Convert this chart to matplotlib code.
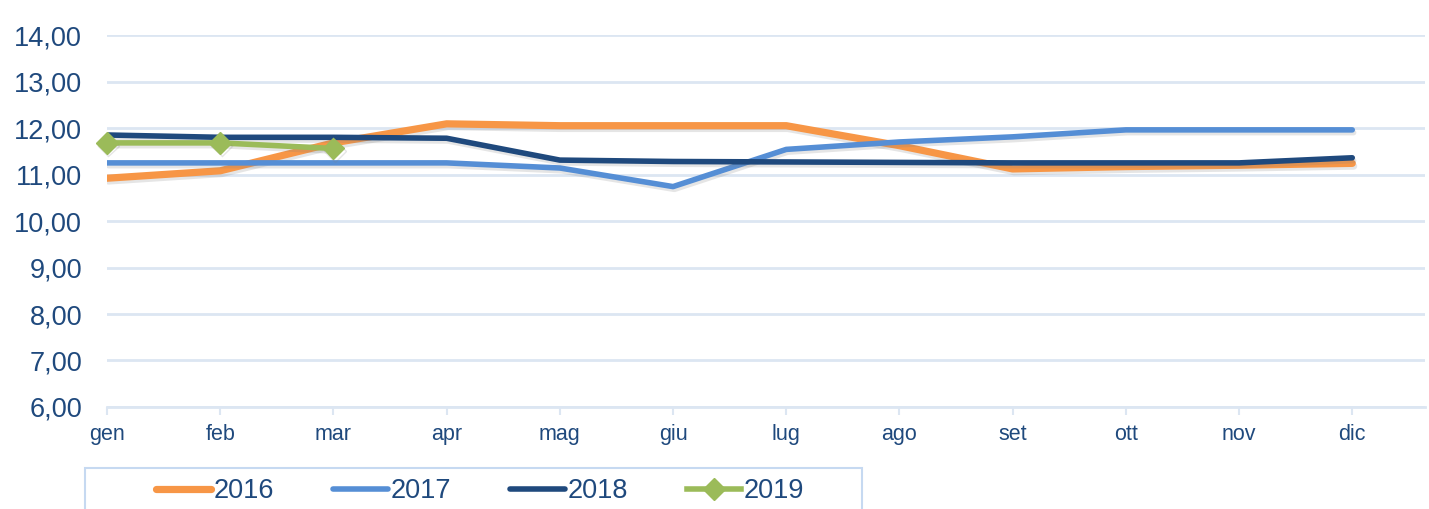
import numpy as np
import matplotlib.pyplot as plt
import matplotlib.patheffects as pe
from matplotlib.patches import Rectangle

# mesi e valori (lettura dal grafico)
mesi = ["gen", "feb", "mar", "apr", "mag", "giu", "lug", "ago", "set", "ott", "nov", "dic"]
v2016 = [10.92, 11.08, 11.68, 12.09, 12.05, 12.05, 12.05, 11.62, 11.12, 11.17, 11.20, 11.24]
v2017 = [11.25, 11.25, 11.25, 11.25, 11.14, 10.74, 11.54, 11.70, 11.81, 11.96, 11.96, 11.96]
v2018 = [11.85, 11.80, 11.80, 11.78, 11.31, 11.28, 11.27, 11.26, 11.25, 11.25, 11.25, 11.36]
v2019 = [11.68, 11.68, 11.56]

blu_testo = "#1F497D"
griglia = "#DCE6F2"
font = ["Liberation Sans", "DejaVu Sans"]

fig = plt.figure(figsize=(14.29, 5.09), dpi=100)
ax = fig.add_axes([0.0749, 0.2004, 0.9221, 0.7308])

x = np.arange(len(mesi))
ombra = [pe.SimpleLineShadow(offset=(1, -2), alpha=0.2, shadow_color="gray"), pe.Normal()]

ax.plot(x, v2016, color="#F79646", lw=5.2, label="2016", path_effects=ombra, solid_capstyle="round")
ax.plot(x, v2017, color="#558ED5", lw=4.0, label="2017", path_effects=ombra, solid_capstyle="round")
ax.plot(x, v2018, color="#1F497D", lw=4.0, label="2018", path_effects=ombra, solid_capstyle="round")
ax.plot(x[:len(v2019)], v2019, color="#9BBB59", lw=4.0, marker="D", markersize=11,
        label="2019", path_effects=ombra, clip_on=False, zorder=5)

ax.set_ylim(6, 14)
ax.set_xlim(0, 11.64)
ax.set_yticks(np.arange(6, 15, 1))
ax.set_yticklabels([f"{v:.2f}".replace(".", ",") for v in np.arange(6, 15, 1)],
                   fontsize=19.5, color=blu_testo, family=font)
ax.set_xticks(x)
ax.set_xticklabels(mesi, fontsize=15.5, color=blu_testo, family=font)
ax.grid(axis="y", color=griglia, lw=2)
ax.set_axisbelow(True)
for s in ["top", "right", "left"]:
    ax.spines[s].set_visible(False)
ax.spines["bottom"].set_color(griglia)
ax.spines["bottom"].set_linewidth(2)
ax.tick_params(axis="y", length=0, pad=18)
ax.tick_params(axis="x", length=6, color=griglia, width=1.5, pad=6)

# cornice della legenda (tagliata in basso come nell'originale)
fig.patches.append(Rectangle((85 / 1429, -0.05), 777 / 1429, 0.0806 + 0.05,
                             transform=fig.transFigure, fill=False,
                             edgecolor="#C6D9F1", lw=1.5))
leg = fig.legend(loc="center left", bbox_to_anchor=(0.1, 1 - 491 / 509),
                 ncol=4, frameon=False, handlelength=2.0, handletextpad=0.1,
                 columnspacing=2.2, borderpad=0, prop={"family": font, "size": 19.5})
for t in leg.get_texts():
    t.set_color(blu_testo)
for h in leg.legend_handles:
    h.set_path_effects([])

fig.savefig("out.png", dpi=100)
